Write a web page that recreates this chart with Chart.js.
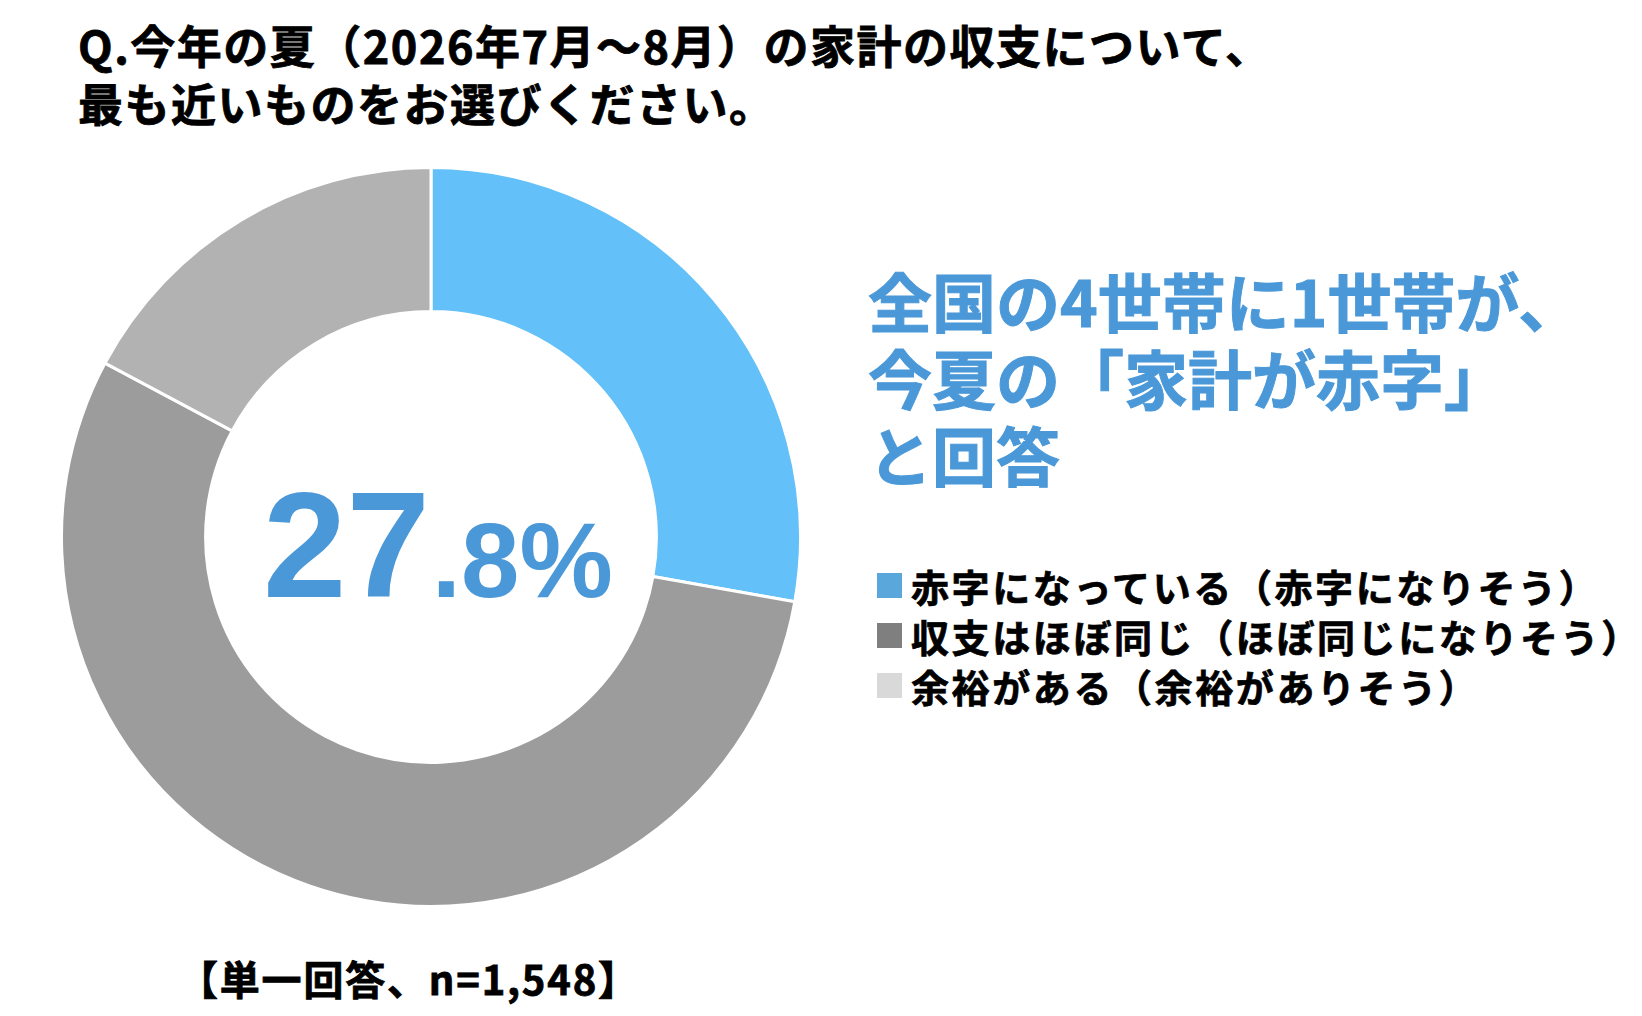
<!DOCTYPE html>
<html lang="ja">
<head>
<meta charset="utf-8">
<title>今年の夏の家計の収支</title>
<script src="https://cdn.jsdelivr.net/npm/chart.js@4.4.1/dist/chart.umd.min.js"></script>
<style>
  html, body {
    margin: 0;
    padding: 0;
    background: #ffffff;
  }
  body {
    width: 1642px;
    height: 1016px;
    position: relative;
    overflow: hidden;
    font-family: "Noto Sans CJK JP", "Noto Sans", sans-serif;
    font-weight: 700;
  }
  .title {
    position: absolute;
    left: 78px;
    top: 16px;
    font-size: 45px;
    line-height: 58px;
    letter-spacing: 1.5px;
    color: #000000;
    -webkit-text-stroke: 0.8px #000000;
    white-space: nowrap;
  }
  .headline {
    position: absolute;
    left: 868px;
    top: 261px;
    font-size: 64px;
    line-height: 77px;
    color: #4a98d8;
    -webkit-text-stroke: 1px #4a98d8;
    white-space: nowrap;
  }
  .legend {
    position: absolute;
    left: 877px;
    top: 560px;
  }
  .legend-row {
    height: 50px;
    display: flex;
    align-items: center;
    font-size: 38px;
    letter-spacing: 2.6px;
    color: #000000;
    -webkit-text-stroke: 0.7px #000000;
    white-space: nowrap;
  }
  .legend-box {
    width: 25px;
    height: 25px;
    margin-right: 9px;
    flex: none;
  }
  .note {
    position: absolute;
    left: 178px;
    top: 953px;
    font-size: 40px;
    line-height: 50px;
    letter-spacing: 1.8px;
    color: #000000;
    -webkit-text-stroke: 0.8px #000000;
    white-space: nowrap;
  }
  #chartWrap {
    position: absolute;
    left: 60px;
    top: 166px;
    width: 742px;
    height: 742px;
  }
</style>
</head>
<body>

<div class="title" id="title"></div>
<div class="headline" id="headline"></div>
<div class="legend" id="legend"></div>
<div class="note" id="note"></div>
<div id="chartWrap"><canvas id="donut" width="742" height="742"></canvas></div>

<script>
// Data
const titleLines = [
  "Q.今年の夏（2026年7月～8月）の家計の収支について、",
  "最も近いものをお選びください。",
];
const headlineLines = [
  "全国の4世帯に1世帯が、",
  "今夏の「家計が赤字」",
  "と回答",
];
const categories = [
  "赤字になっている（赤字になりそう）",
  "収支はほぼ同じ（ほぼ同じになりそう）",
  "余裕がある（余裕がありそう）",
];
const shares = [27.8, 55.0, 17.2];
const sampleNote = "【単一回答、n=1,548】";

// Colours
const sliceColors = ["#63c0f8", "#9c9c9c", "#b2b2b2"];
const legendColors = ["#5aa8db", "#7f7f7f", "#d9d9d9"];
const accentBlue = "#4a98d8";

document.getElementById("title").innerHTML = titleLines.join("<br>");
document.getElementById("headline").innerHTML = headlineLines.join("<br>");
document.getElementById("note").textContent = sampleNote;

const legendEl = document.getElementById("legend");
categories.forEach((label, i) => {
  const row = document.createElement("div");
  row.className = "legend-row";
  const box = document.createElement("span");
  box.className = "legend-box";
  box.style.background = legendColors[i];
  const text = document.createElement("span");
  text.textContent = label;
  row.appendChild(box);
  row.appendChild(text);
  legendEl.appendChild(row);
});

// Big percentage in the middle of the ring
const centerText = {
  id: "centerText",
  afterDraw(chart) {
    const { ctx, chartArea } = chart;
    const cx = (chartArea.left + chartArea.right) / 2;
    const cy = (chartArea.top + chartArea.bottom) / 2;
    const parts = shares[0].toFixed(1).split(".");
    const whole = parts[0];
    const rest = "." + parts[1] + "%";

    ctx.save();
    ctx.fillStyle = accentBlue;
    ctx.textBaseline = "alphabetic";
    ctx.textAlign = "left";
    ctx.font = "bold 150px 'Liberation Sans', Arial, sans-serif";
    const x0 = cx - 168;
    const baseline = cy + 60;
    ctx.fillText(whole, x0, baseline);
    const w = ctx.measureText(whole).width;
    ctx.font = "bold 105px 'Liberation Sans', Arial, sans-serif";
    ctx.fillText(rest, x0 + w + 2, baseline);
    ctx.restore();
  },
};

new Chart(document.getElementById("donut"), {
  type: "doughnut",
  data: {
    labels: categories,
    datasets: [
      {
        data: shares,
        backgroundColor: sliceColors,
        borderColor: "#ffffff",
        borderWidth: 3,
      },
    ],
  },
  options: {
    responsive: false,
    animation: false,
    cutout: "61%",
    layout: { padding: 0 },
    plugins: {
      legend: { display: false },
      tooltip: { enabled: false },
    },
  },
  plugins: [centerText],
});
</script>
</body>
</html>
